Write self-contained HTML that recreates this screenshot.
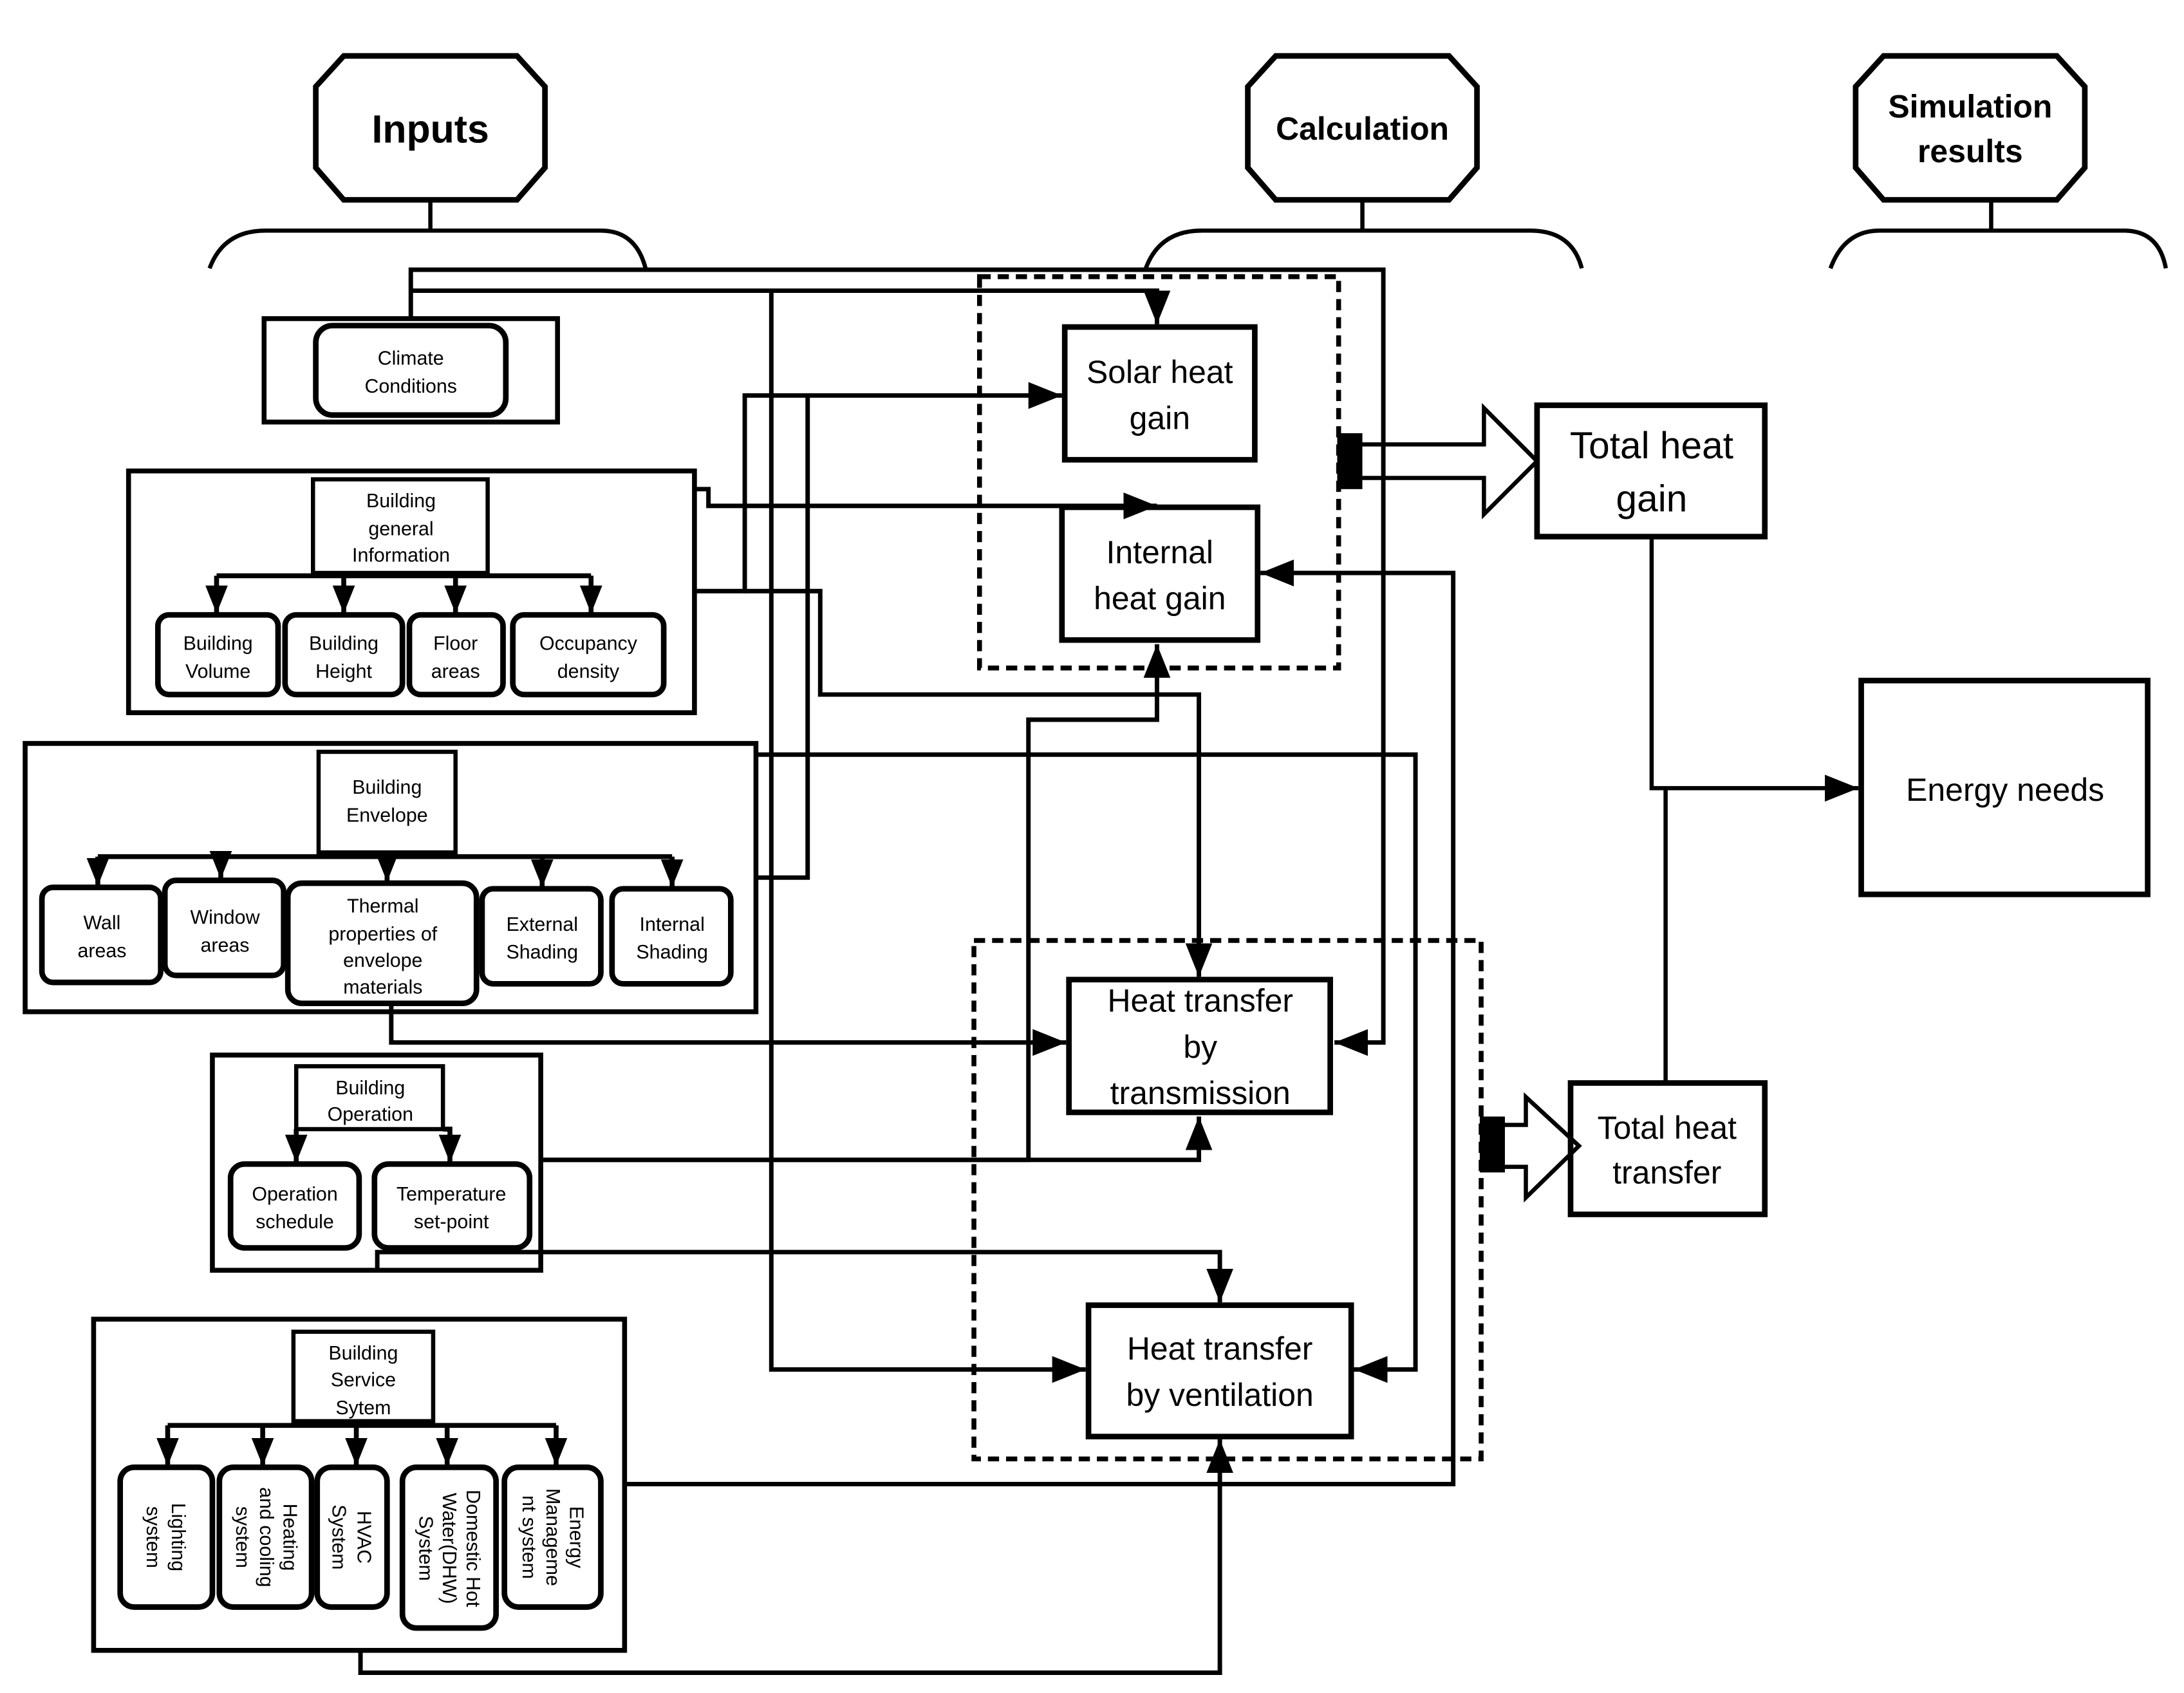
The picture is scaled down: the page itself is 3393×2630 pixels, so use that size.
<!DOCTYPE html>
<html><head><style>html,body{margin:0;padding:0;background:#fff}svg{display:block}</style></head><body>
<svg width="3393" height="2630" viewBox="0 0 1563 1211.5" xmlns="http://www.w3.org/2000/svg" font-family="Liberation Sans, sans-serif">
<defs>
<marker id="b" viewBox="0 0 10 10" refX="10" refY="5" markerWidth="24" markerHeight="24" markerUnits="userSpaceOnUse" orient="auto"><path d="M0,1L10,5L0,9z" fill="#000"/></marker>
<marker id="c" viewBox="0 0 10 10" refX="10" refY="5" markerWidth="20" markerHeight="20" markerUnits="userSpaceOnUse" orient="auto"><path d="M0,1L10,5L0,9z" fill="#000"/></marker>
</defs>
<g fill="none" stroke="#000" stroke-width="4">
<path d="M246,40H370L390,62V120L370,143H246L226,120V62Z"/>
<path d="M913,40H1037L1057,62V120L1037,143H913L893,120V62Z"/>
<path d="M1348,40H1472L1492,62V120L1472,143H1348L1328,120V62Z"/>
<path d="M308,143V165M975,143V165M1425,143V165" stroke-width="3"/>
<path d="M150,192Q160,165 190,165H430Q455,165 462,192" stroke-width="3"/>
<path d="M820,192Q830,165 860,165H1095Q1125,165 1132,192" stroke-width="3"/>
<path d="M1310,192Q1320,165 1345,165H1520Q1545,165 1550,192" stroke-width="3"/>

<rect x="189" y="228" width="210" height="74" stroke-width="3.5"/>
<rect x="226" y="233" width="136" height="64" rx="12"/>
<rect x="92" y="337" width="405" height="173" stroke-width="3.5"/>
<rect x="224" y="343" width="125" height="67" stroke-width="3"/>
<path d="M155,412H423" stroke-width="3.5"/>
<rect x="113" y="440" width="86" height="57" rx="8"/>
<rect x="204" y="440" width="84" height="57" rx="8"/>
<rect x="293" y="440" width="67" height="57" rx="8"/>
<rect x="367" y="440" width="108" height="57" rx="8"/>
<rect x="18" y="532" width="523" height="192" stroke-width="3.5"/>
<rect x="228" y="538" width="98" height="72" stroke-width="3"/>
<path d="M70,613H481" stroke-width="3.5"/>
<rect x="30" y="635" width="85" height="68" rx="8"/>
<rect x="118" y="630" width="85" height="68" rx="8"/>
<rect x="206" y="632" width="135" height="86" rx="10"/>
<rect x="345" y="636" width="85" height="68" rx="8"/>
<rect x="438" y="636" width="85" height="68" rx="8"/>
<rect x="152" y="755" width="235" height="154" stroke-width="3.5"/>
<rect x="212" y="763" width="105" height="45" stroke-width="3"/>
<rect x="165" y="833" width="92" height="60" rx="10"/>
<rect x="268" y="833" width="111" height="60" rx="10"/>
<rect x="67" y="944" width="380" height="237" stroke-width="3.5"/>
<rect x="210" y="953" width="100" height="64" stroke-width="3"/>
<path d="M120,1020H398" stroke-width="3.5"/>
<rect x="86" y="1050" width="66" height="100" rx="10"/>
<rect x="157" y="1050" width="66" height="100" rx="10"/>
<rect x="227" y="1050" width="50" height="100" rx="10"/>
<rect x="288" y="1050" width="67" height="115" rx="10"/>
<rect x="361" y="1050" width="69" height="100" rx="10"/>

<rect x="701" y="198" width="257" height="280" stroke-dasharray="8,5" stroke-width="3.5"/>
<rect x="697" y="673" width="363" height="371" stroke-dasharray="8,5" stroke-width="3.5"/>
<rect x="762" y="234" width="136" height="95"/>
<rect x="760" y="363" width="140" height="95"/>
<rect x="765" y="701" width="187" height="95"/>
<rect x="779" y="934" width="188" height="94"/>
<rect x="1100" y="290" width="163" height="94"/>
<rect x="1332" y="487" width="205" height="153"/>
<rect x="1124" y="775" width="139" height="94"/>

<rect x="958" y="311" width="16" height="38" fill="#000" stroke-width="2"/>
<path d="M975,318H1062V292L1100,330L1062,368V342H975" stroke-width="3"/>
<rect x="1060" y="800" width="16" height="38" fill="#000" stroke-width="2"/>
<path d="M1076,805H1092V785L1130,820L1092,857V835H1076" stroke-width="3"/>

<path d="M1182,384V564H1330" stroke-width="3" marker-end="url(#b)"/>
<path d="M1192,775V564" stroke-width="3"/>
</g>

<!-- tree arrows -->
<g fill="none" stroke="#000" stroke-width="3.5" marker-end="url(#c)">
<path d="M155,412V439"/><path d="M246,412V439"/><path d="M326,412V439"/><path d="M423,412V439"/>
<path d="M70,613V634"/><path d="M158,613V629"/><path d="M277,613V631"/><path d="M388,613V635"/><path d="M481,613V635"/>
<path d="M212,808V832"/><path d="M317,808H322V832"/>
<path d="M120,1020V1049"/><path d="M188,1020V1049"/><path d="M255,1020V1049"/><path d="M320,1020V1049"/><path d="M398,1020V1049"/>
</g>

<g fill="none" stroke="#000" stroke-width="3.2">
<path d="M294,228V193H990V746H955" marker-end="url(#b)"/>
<path d="M294,208H828V232" marker-end="url(#b)"/>
<path d="M552,208V980H777" marker-end="url(#b)"/>
<path d="M497,423H533V283H760" marker-end="url(#b)"/>
<path d="M497,350H507V362H828" marker-end="url(#b)"/>
<path d="M533,423H587V497H828V461" marker-end="url(#b)"/>
<path d="M578,283V628H541"/>
<path d="M541,540H1013V980H969" marker-end="url(#b)"/>
<path d="M280,718V746H763" marker-end="url(#b)"/>
<path d="M387,830H736V515H828V497"/>
<path d="M387,830H858V799" marker-end="url(#b)"/>
<path d="M828,497H858V699" marker-end="url(#b)"/>
<path d="M270,909V896H410V896H873V932" marker-end="url(#b)"/>
<path d="M447,1062H1040V410H902" marker-end="url(#b)"/>
<path d="M258,1181V1197H873V1030" marker-end="url(#b)"/>
</g>

<g text-anchor="middle" fill="#000">
<text x="308" y="102" font-size="28" font-weight="bold">Inputs</text>
<text x="975" y="100" font-size="23" font-weight="bold">Calculation</text>
<text x="1410" y="84" font-size="23" font-weight="bold">Simulation</text>
<text x="1410" y="116" font-size="23" font-weight="bold">results</text>
<g font-size="14">
<text x="294" y="261">Climate</text><text x="294" y="281">Conditions</text>
<text x="287" y="363">Building</text><text x="287" y="383">general</text><text x="287" y="402">Information</text>
<text x="156" y="465">Building</text><text x="156" y="485">Volume</text>
<text x="246" y="465">Building</text><text x="246" y="485">Height</text>
<text x="326" y="465">Floor</text><text x="326" y="485">areas</text>
<text x="421" y="465">Occupancy</text><text x="421" y="485">density</text>
<text x="277" y="568">Building</text><text x="277" y="588">Envelope</text>
<text x="73" y="665">Wall</text><text x="73" y="685">areas</text>
<text x="161" y="661">Window</text><text x="161" y="681">areas</text>
<text x="274" y="653">Thermal</text><text x="274" y="673">properties of</text><text x="274" y="692">envelope</text><text x="274" y="711">materials</text>
<text x="388" y="666">External</text><text x="388" y="686">Shading</text>
<text x="481" y="666">Internal</text><text x="481" y="686">Shading</text>
<text x="265" y="783">Building</text><text x="265" y="802">Operation</text>
<text x="211" y="859">Operation</text><text x="211" y="879">schedule</text>
<text x="323" y="859">Temperature</text><text x="323" y="879">set-point</text>
<text x="260" y="973">Building</text><text x="260" y="992">Service</text><text x="260" y="1012">Sytem</text>
<g transform="translate(119,1100) rotate(90)"><text y="-4">Lighting</text><text y="14">system</text></g>
<g transform="translate(190,1100) rotate(90)"><text y="-13">Heating</text><text y="4">and cooling</text><text y="21">system</text></g>
<g transform="translate(252,1100) rotate(90)"><text y="-4">HVAC</text><text y="14">System</text></g>
<g transform="translate(321,1108) rotate(90)"><text y="-13">Domestic Hot</text><text y="4">Water(DHW)</text><text y="21">System</text></g>
<g transform="translate(395,1100) rotate(90)"><text y="-13">Energy</text><text y="4">Manageme</text><text y="21">nt system</text></g>
</g>
<g font-size="23">
<text x="830" y="274">Solar heat</text><text x="830" y="307">gain</text>
<text x="830" y="403">Internal</text><text x="830" y="436">heat gain</text>
<text x="859" y="724">Heat transfer</text><text x="859" y="757">by</text><text x="859" y="790">transmission</text>
<text x="873" y="973">Heat transfer</text><text x="873" y="1006">by ventilation</text>
<text x="1435" y="573">Energy needs</text>
<text x="1193" y="815">Total heat</text><text x="1193" y="847">transfer</text>
</g>
<text x="1182" y="328" font-size="27">Total heat</text><text x="1182" y="366" font-size="27">gain</text>
</g>
</svg>
</body></html>
